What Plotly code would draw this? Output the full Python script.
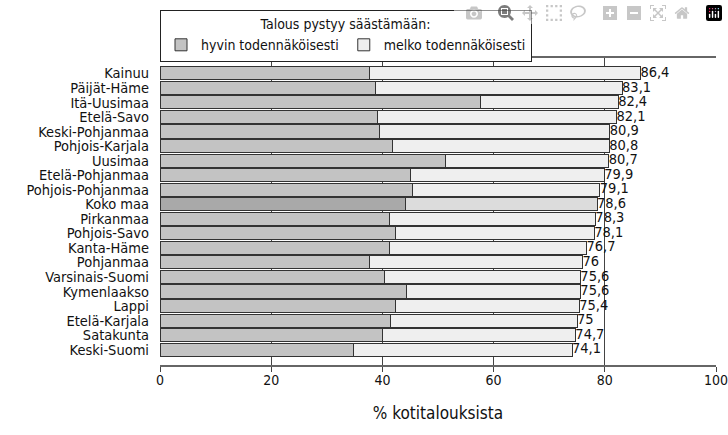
import plotly.graph_objects as go

# alueet ylhäältä alas
alueet = ['Kainuu', 'Päijät-Häme', 'Itä-Uusimaa', 'Etelä-Savo', 'Keski-Pohjanmaa',
          'Pohjois-Karjala', 'Uusimaa', 'Etelä-Pohjanmaa', 'Pohjois-Pohjanmaa', 'Koko maa',
          'Pirkanmaa', 'Pohjois-Savo', 'Kanta-Häme', 'Pohjanmaa', 'Varsinais-Suomi',
          'Kymenlaakso', 'Lappi', 'Etelä-Karjala', 'Satakunta', 'Keski-Suomi']
yhteensa = [86.4, 83.1, 82.4, 82.1, 80.9, 80.8, 80.7, 79.9, 79.1, 78.6,
            78.3, 78.1, 76.7, 76.0, 75.6, 75.6, 75.4, 75.0, 74.7, 74.1]
hyvin = [37.6, 38.8, 57.7, 39.1, 39.4, 41.8, 51.4, 45.1, 45.4, 44.1,
         41.2, 42.4, 41.2, 37.6, 40.3, 44.4, 42.3, 41.4, 40.0, 34.8]
melko = [round(t - h, 1) for t, h in zip(yhteensa, hyvin)]

def fmt(v):
    s = f"{v:.1f}".replace('.', ',')
    return s[:-2] if s.endswith(',0') else s

FONT = "DejaVu Sans Condensed, Liberation Sans Narrow, Liberation Sans, sans-serif"

vari_hyvin = ['#a9a9a9' if a == 'Koko maa' else '#c3c3c3' for a in alueet]
vari_melko = ['#dcdcdc' if a == 'Koko maa' else '#efefef' for a in alueet]

fig = go.Figure()
fig.add_trace(go.Bar(y=alueet, x=hyvin, orientation='h', name='hyvin todennäköisesti',
                     marker=dict(color=vari_hyvin, line=dict(color='#333333', width=1))))
fig.add_trace(go.Bar(y=alueet, x=melko, orientation='h', name='melko todennäköisesti',
                     marker=dict(color=vari_melko, line=dict(color='#333333', width=1))))
fig.add_trace(go.Scatter(y=alueet, x=yhteensa, mode='text', text=[fmt(v) for v in yhteensa],
                         textposition='middle right', showlegend=False,
                         textfont=dict(family=FONT, size=14.5, color='#111111'),
                         cliponaxis=False, hoverinfo='skip'))

fig.update_layout(
    width=728, height=435,
    barmode='stack', bargap=0.1,
    plot_bgcolor='white', paper_bgcolor='white',
    margin=dict(l=160, r=12, t=58, b=70, autoexpand=False),
    font=dict(family=FONT, size=14, color='#111111'),
    legend=dict(
        orientation='h', x=0, xanchor='left',
        yref='container', y=0.977, yanchor='top',
        bordercolor='#222222', borderwidth=1, bgcolor='white',
        title=dict(text='Talous pystyy säästämään:', side='top center',
                   font=dict(family=FONT, size=14)),
        font=dict(family=FONT, size=14), traceorder='normal',
        itemwidth=30, tracegroupgap=0,
    ),
)
fig.update_xaxes(range=[0, 100], tickvals=[0, 20, 40, 60, 80, 100],
                 showgrid=True, gridcolor='#444444', gridwidth=1,
                 showline=True, linecolor='#666666', linewidth=2, mirror=True,
                 ticks='outside', ticklen=5, tickcolor='#444444',
                 tickfont=dict(family=FONT, size=14), automargin=False,
                 ticklabeloverflow='allow', ticklabelstandoff=-4,
                 title=dict(text='% kotitalouksista', font=dict(family=FONT, size=17), standoff=20),
                 zeroline=False)
fig.update_yaxes(autorange='reversed', showline=False, ticks='',
                 tickmode='array', tickvals=alueet, automargin=False,
                 tickfont=dict(family=FONT, size=14.5), ticklabelstandoff=10)

# sivun oletusmarginaali pois, jotta kuva täyttää ikkunan
fig.write_html("out.html", post_script="document.body.style.margin='0px';")
